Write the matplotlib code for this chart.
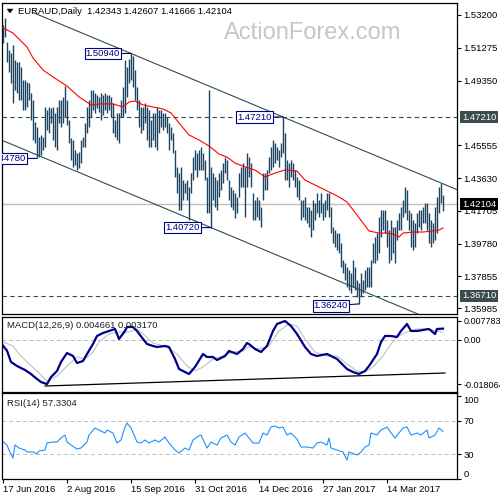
import matplotlib
matplotlib.use("Agg")
import matplotlib.pyplot as plt
from matplotlib.patches import Polygon

plt.rcParams['font.family'] = ['Liberation Sans', 'DejaVu Sans']

# ---------------- data ----------------
date_ticks = [0, 32, 64, 96, 128, 160, 192]
date_labels = ["17 Jun 2016", "2 Aug 2016", "15 Sep 2016", "31 Oct 2016",
               "14 Dec 2016", "27 Jan 2017", "14 Mar 2017"]

highs = [
    1.5261, 1.5302, 1.5161, 1.5115, 1.5097, 1.5144, 1.5056, 1.5044, 1.5044, 1.5015,
    1.4938, 1.4938, 1.4927, 1.4921, 1.4862, 1.4821, 1.4692, 1.4663, 1.4604, 1.4616,
    1.4604, 1.4780, 1.4762, 1.4780, 1.4774, 1.4780, 1.4745, 1.4780, 1.4821, 1.4821,
    1.4839, 1.4903, 1.4821, 1.4704, 1.4598, 1.4586, 1.4528, 1.4510, 1.4516, 1.4586,
    1.4604, 1.4686, 1.4780, 1.4821, 1.4880, 1.4880, 1.4862, 1.4850, 1.4839, 1.4862,
    1.4850, 1.4862, 1.4850, 1.4850, 1.4839, 1.4803, 1.4704, 1.4745, 1.4745, 1.4821,
    1.4897, 1.5056, 1.5015, 1.5060, 1.5094, 1.5080, 1.4997, 1.4897, 1.4821, 1.4780,
    1.4780, 1.4803, 1.4780, 1.4762, 1.4704, 1.4745, 1.4745, 1.4780, 1.4762, 1.4762,
    1.4745, 1.4745, 1.4721, 1.4686, 1.4663, 1.4627, 1.4528, 1.4428, 1.4393, 1.4428,
    1.4351, 1.4334, 1.4351, 1.4310, 1.4393, 1.4486, 1.4528, 1.4510, 1.4528, 1.4545,
    1.4510, 1.4469, 1.4369, 1.4880, 1.4428, 1.4393, 1.4369, 1.4351, 1.4393, 1.4410,
    1.4451, 1.4486, 1.4469, 1.4351, 1.4310, 1.4293, 1.4275, 1.4252, 1.4393, 1.4428,
    1.4451, 1.4428, 1.4510, 1.4486, 1.4451, 1.4275, 1.4234, 1.4252, 1.4234, 1.4193,
    1.4393, 1.4393, 1.4410, 1.4486, 1.4545, 1.4586, 1.4569, 1.4545, 1.4528, 1.4569,
    1.4721, 1.4627, 1.4469, 1.4451, 1.4469, 1.4451, 1.4410, 1.4369, 1.4351, 1.4234,
    1.4234, 1.4252, 1.4193, 1.4193, 1.4175, 1.4234, 1.4216, 1.4275, 1.4234, 1.4275,
    1.4216, 1.4234, 1.4275, 1.4275, 1.4193, 1.4076, 1.4058, 1.4040, 1.4040, 1.3982,
    1.3882, 1.3864, 1.3841, 1.3823, 1.3806, 1.3882, 1.3841, 1.3764, 1.3747, 1.3806,
    1.3764, 1.3823, 1.3841, 1.3841, 1.3882, 1.3982, 1.4017, 1.4040, 1.4134, 1.4175,
    1.4175, 1.4175, 1.4117, 1.4058, 1.4117, 1.4076, 1.4076, 1.4117, 1.4158, 1.4193,
    1.4234, 1.4310, 1.4293, 1.4175, 1.4158, 1.4117, 1.4099, 1.4158, 1.4175, 1.4175,
    1.4193, 1.4216, 1.4216, 1.4158, 1.4117, 1.4099, 1.4193, 1.4252, 1.4310, 1.4334,
    1.42607]

lows = [
    1.5156, 1.5191, 1.5044, 1.4985, 1.4921, 1.4803, 1.4880, 1.4862, 1.4821, 1.4821,
    1.4762, 1.4762, 1.4780, 1.4821, 1.4704, 1.4586, 1.4569, 1.4478, 1.4486, 1.4498,
    1.4528, 1.4545, 1.4645, 1.4627, 1.4686, 1.4586, 1.4545, 1.4528, 1.4686, 1.4663,
    1.4686, 1.4721, 1.4674, 1.4569, 1.4469, 1.4428, 1.4440, 1.4410, 1.4422, 1.4451,
    1.4545, 1.4545, 1.4627, 1.4663, 1.4721, 1.4762, 1.4745, 1.4774, 1.4751, 1.4704,
    1.4733, 1.4762, 1.4745, 1.4762, 1.4721, 1.4627, 1.4604, 1.4586, 1.4569, 1.4721,
    1.4721, 1.4745, 1.4839, 1.4921, 1.4938, 1.4897, 1.4821, 1.4762, 1.4663, 1.4627,
    1.4645, 1.4686, 1.4586, 1.4545, 1.4545, 1.4586, 1.4545, 1.4528, 1.4627, 1.4663,
    1.4645, 1.4663, 1.4627, 1.4528, 1.4586, 1.4510, 1.4369, 1.4275, 1.4175, 1.4175,
    1.4234, 1.4275, 1.4234, 1.4117, 1.4275, 1.4351, 1.4410, 1.4369, 1.4410, 1.4410,
    1.4410, 1.4351, 1.4158, 1.4158, 1.4072, 1.4234, 1.4193, 1.4175, 1.4252, 1.4293,
    1.4334, 1.4393, 1.4351, 1.4234, 1.4193, 1.4175, 1.4128, 1.4158, 1.4252, 1.4310,
    1.4310, 1.4134, 1.4310, 1.4369, 1.4310, 1.4117, 1.4117, 1.4134, 1.4117, 1.4076,
    1.4234, 1.4293, 1.4293, 1.4393, 1.4410, 1.4428, 1.4451, 1.4469, 1.4428, 1.4486,
    1.4510, 1.4351, 1.4351, 1.4310, 1.4369, 1.4351, 1.4310, 1.4252, 1.4234, 1.4117,
    1.4134, 1.4117, 1.4099, 1.4076, 1.4017, 1.4058, 1.4117, 1.4158, 1.4134, 1.4158,
    1.4117, 1.4134, 1.4175, 1.4134, 1.4040, 1.3982, 1.3958, 1.3941, 1.3923, 1.3841,
    1.3806, 1.3764, 1.3723, 1.3706, 1.3688, 1.3723, 1.3706, 1.3665, 1.3624, 1.3665,
    1.3688, 1.3706, 1.3723, 1.3723, 1.3723, 1.3864, 1.3864, 1.3882, 1.3923, 1.4017,
    1.4058, 1.4040, 1.3958, 1.3864, 1.3882, 1.3923, 1.3864, 1.3999, 1.4058, 1.4058,
    1.4134, 1.4158, 1.4117, 1.4058, 1.3958, 1.3941, 1.3958, 1.4040, 1.4076, 1.4058,
    1.4099, 1.4099, 1.4058, 1.3982, 1.3958, 1.3982, 1.3999, 1.4040, 1.4158, 1.4216,
    1.41666]

ma_idx = [0, 5, 12, 15, 20, 25, 32, 38, 44, 49, 55, 60, 63, 66, 70, 75, 80, 84, 88, 93,
          98, 103, 108, 112, 116, 121, 126, 131, 136, 141, 147, 151, 156, 161, 168, 172,
          177, 180, 183, 188, 192, 195, 198, 200, 205, 210, 215, 218, 220]
ma_val = [1.5244, 1.5214, 1.5132, 1.5068, 1.4997, 1.4956, 1.4903, 1.4839, 1.4792, 1.4798,
          1.4798, 1.4780, 1.4809, 1.4815, 1.4792, 1.4780, 1.4768, 1.4745, 1.4686, 1.4616,
          1.4586, 1.4551, 1.4504, 1.4486, 1.4451, 1.4428, 1.4410, 1.4369, 1.4392, 1.4410,
          1.4404, 1.4351, 1.4322, 1.4293, 1.4252, 1.4222, 1.4146, 1.4099, 1.4052, 1.4040,
          1.4040, 1.4035, 1.4017, 1.4040, 1.4046, 1.4046, 1.4052, 1.4058, 1.4070]

channel_upper = [(64, 1.5094), (219, 1.4334)]   # two touch points
channel_upper_start = 15
channel_lower_touch = (104, 1.4072)

hlines_dashed = [1.47210, 1.36710]
last_price = 1.42104

swing_labels = [(64, 1.50940, 0), (140, 1.47210, 0), (17, 1.44780, 0),
                (104, 1.40720, 0), (178, 1.36240, -2)]

price_ticks = [1.53200, 1.51275, 1.49350, 1.45555, 1.43630, 1.41705, 1.39780,
               1.37855, 1.35985]

macd_idx = [0, 2, 4, 7, 11, 14, 17, 19, 22, 24, 27, 29, 32, 35, 37, 40, 42, 45, 47, 50,
            53, 56, 58, 61, 62, 65, 67, 70, 72, 75, 77, 81, 83, 86, 88, 91, 93, 96, 100, 102,
            105, 107, 111, 113, 117, 120, 122, 123, 126, 129, 132, 135, 137, 141, 144, 147,
            151, 154, 157, 162, 167, 172, 175, 178, 181, 183, 187, 189, 191, 194, 197, 199,
            202, 204, 207, 210, 213, 216, 217, 220]
macd_val = [-0.00234, -0.00438, -0.00901, -0.01065, -0.01229, -0.01393, -0.01598, -0.01721,
            -0.01806, -0.01516, -0.01270, -0.00901, -0.00533, -0.00655, -0.00942, -0.00860,
            -0.00574, -0.00164, 0.00164, 0.00287, 0.00369, 0.00451, 0.00041, 0.00369, 0.00533,
            0.00533, 0.00369, 0.00041, -0.00164, -0.00246, -0.00287, -0.00246, -0.00287,
            -0.00778, -0.01188, -0.01311, -0.01393, -0.01106, -0.00574, -0.00696, -0.00696,
            -0.00819, -0.00655, -0.00451, -0.00574, -0.00369, -0.00123, -0.00164, -0.00369,
            -0.00492, -0.00246, 0.00369, 0.00655, 0.00778, 0.00574, 0.00246, -0.00287,
            -0.00574, -0.00655, -0.00574, -0.00778, -0.01188, -0.01311, -0.01393, -0.01270,
            -0.01065, -0.00574, -0.00082, 0.00164, 0.00164, 0.00123, 0.00369, 0.00655,
            0.00369, 0.00369, 0.00410, 0.00451, 0.00246, 0.00451, 0.00466]
sig_idx = [0, 5, 8, 13, 18, 22, 27, 32, 37, 41, 45, 48, 53, 58, 63, 67, 70, 75, 82, 87,
           92, 96, 100, 105, 110, 115, 120, 123, 128, 133, 138, 143, 147, 151, 156, 162,
           167, 172, 177, 181, 185, 190, 194, 197, 202, 207, 212, 217, 220]
sig_val = [-0.00082, -0.00246, -0.00574, -0.00983, -0.01352, -0.01680, -0.01475, -0.01065,
           -0.00696, -0.00778, -0.00492, -0.00082, 0.00246, 0.00328, 0.00328, 0.00451,
           0.00246, -0.00123, -0.00287, -0.00574, -0.01065, -0.01270, -0.01106, -0.00778,
           -0.00655, -0.00492, -0.00451, -0.00266, -0.00369, -0.00246, 0.00369, 0.00655,
           0.00574, 0.00041, -0.00492, -0.00655, -0.00655, -0.00983, -0.01270, -0.01311,
           -0.01106, -0.00655, -0.00164, 0.00123, 0.00328, 0.00451, 0.00451, 0.00369, 0.00317]
macd_trend = [(21, -0.01884), (221, -0.01352)]
macd_ticks = [0.007783, 0.0, -0.018064]
macd_tick_labels = ["0.007783", "0.00", "-0.018064"]

rsi_idx = [0, 2, 3, 5, 6, 8, 11, 12, 15, 17, 18, 21, 22, 25, 27, 29, 31, 32, 34, 37,
           39, 42, 43, 46, 48, 51, 52, 55, 57, 59, 61, 62, 64, 67, 69, 71, 73, 76, 78, 81,
           83, 86, 88, 91, 93, 95, 97, 99, 102, 104, 107, 109, 112, 114, 116, 118, 121, 123,
           125, 128, 130, 132, 134, 136, 138, 140, 142, 144, 147, 149, 152, 155, 157, 159,
           162, 163, 164, 167, 170, 172, 173, 177, 179, 181, 183, 184, 187, 189, 192, 193,
           196, 198, 200, 202, 204, 207, 209, 212, 213, 216, 218, 220]
rsi_val = [44.8, 40.8, 34.8, 25.2, 40.8, 37.2, 34.8, 32.4, 32.4, 30.0, 33.6, 34.8, 43.2,
           44.4, 44.4, 49.2, 52.8, 44.4, 40.8, 36.0, 37.2, 44.4, 52.8, 61.2, 58.8, 55.2, 58.8,
           55.2, 43.2, 46.8, 62.4, 67.2, 61.2, 44.4, 43.2, 46.8, 43.2, 46.8, 44.4, 50.4, 43.2,
           34.8, 31.2, 37.2, 34.8, 46.8, 50.4, 52.8, 37.2, 44.4, 40.8, 49.2, 52.8, 44.4, 40.8,
           50.4, 55.2, 49.2, 43.2, 43.2, 55.2, 52.8, 62.4, 63.6, 61.2, 62.4, 52.8, 55.2, 48.0,
           38.4, 38.4, 37.2, 43.2, 44.4, 40.8, 49.2, 37.2, 34.8, 32.4, 22.8, 32.4, 28.8, 32.4,
           38.4, 40.8, 55.2, 52.8, 58.8, 62.4, 58.8, 49.2, 55.2, 61.2, 62.4, 52.8, 55.2, 52.8,
           58.8, 49.2, 52.8, 61.2, 57.33]
rsi_ticks = [100, 70, 30, 0]

title = "EURAUD,Daily  1.42343 1.42607 1.41666 1.42104"
macd_title = "MACD(12,26,9) 0.004661 0.003170"
rsi_title = "RSI(14) 57.3304"
watermark = "ActionForex.com"

# ---------------- styling ----------------
BAR = '#1d4561'
SLATE = '#2f4f4f'
NAVY = '#000080'
FS = 6.8
W = H = 500.0


def fx(px):
    return px / W


def fy(py):
    return 1 - py / H


fig = plt.figure(figsize=(5, 5), dpi=100)
fig.patch.set_facecolor('white')

ax = fig.add_axes([fx(2), fy(314), fx(455), (314 - 2.5) / H])
axm = fig.add_axes([fx(2), fy(392), fx(455), 75 / H])
axr = fig.add_axes([fx(2), fy(479), fx(455), 85.7 / H])

n = len(highs)
idx = list(range(n))
for a in (ax, axm, axr):
    a.set_xlim(-0.5, 227)
    for s in a.spines.values():
        s.set_linewidth(0.9)
        s.set_color('black')
    a.yaxis.tick_right()
    a.tick_params(axis='y', direction='out', length=3, width=0.8, labelsize=FS, pad=1.5,
                  colors='black')
    a.tick_params(axis='x', bottom=False, labelbottom=False)

# ---------------- main panel ----------------
ax.set_ylim(1.35648, 1.53933)
ax.vlines(idx, lows, highs, color=BAR, lw=1.0, zorder=3)
ax.plot(ma_idx, ma_val, color='#ff0000', lw=0.8, zorder=4)

(i1, p1), (i2, p2) = channel_upper
slope = (p2 - p1) / (i2 - i1)
xs = [channel_upper_start, 240]
ax.plot(xs, [p1 + slope * (x - i1) for x in xs], color=SLATE, lw=0.8, zorder=2)
ax.axline(channel_lower_touch, slope=slope, color=SLATE, lw=0.8, zorder=2)

for lv in hlines_dashed:
    ax.axhline(lv, color=SLATE, lw=0.8, ls=(0, (4, 3)), zorder=1)
ax.axhline(last_price, color='#c0c0c0', lw=1.0, zorder=1)

ax.set_yticks(price_ticks)
ax.set_yticklabels([f"{v:.5f}" for v in price_ticks])

for bi, val, dy in swing_labels:
    t = ax.annotate(f"{val:.5f}", xy=(bi, val), xytext=(-11, dy), textcoords='offset pixels',
                    ha='right', va='center', fontsize=FS, color=NAVY, zorder=6,
                    bbox=dict(boxstyle='square,pad=0.12', fc='white', ec=NAVY, lw=0.8),
                    arrowprops=dict(arrowstyle='-', color=NAVY, lw=0.8, shrinkA=0, shrinkB=0))
    t.set_clip_on(True)
    t.set_clip_box(ax.bbox)

for lv, bg in [(hlines_dashed[0], '#3b4d4d'), (last_price, '#000000'),
               (hlines_dashed[1], '#3b4d4d')]:
    ax.annotate(f"{lv:.5f}", xy=(1, lv), xycoords=('axes fraction', 'data'),
                xytext=(5, 0), textcoords='offset pixels', ha='left', va='center',
                fontsize=FS, color='white', annotation_clip=False, zorder=10,
                bbox=dict(boxstyle='square,pad=0.2', fc=bg, ec=bg, lw=0))

# ---------------- MACD panel ----------------
axm.set_ylim(-0.0213, 0.00942)
axm.axhline(0, color='#b8b8b8', lw=0.7, ls=(0, (4, 3)))
axm.plot(sig_idx, sig_val, color='#c0c0c0', lw=0.8)
axm.plot(macd_idx, macd_val, color='#000088', lw=1.6)
axm.plot([macd_trend[0][0], macd_trend[1][0]], [macd_trend[0][1], macd_trend[1][1]],
         color='black', lw=0.9)
axm.set_yticks(macd_ticks)
axm.set_yticklabels(macd_tick_labels)
axm.tick_params(axis='y', labelsize=6.5)

# ---------------- RSI panel ----------------
axr.set_ylim(0, 102.9)
for lv in (70, 30):
    axr.axhline(lv, color='#c0c0c0', lw=0.7, ls=(0, (4, 3)))
axr.plot(rsi_idx, rsi_val, color='#1e90ff', lw=0.8)
axr.set_yticks(rsi_ticks)
axr.set_yticklabels([str(v) for v in rsi_ticks])
tl = axr.get_yticklabels()
tl[0].set_va('top')
tl[-1].set_va('bottom')

axr.set_xticks(date_ticks)
axr.set_xticklabels(date_labels, ha='left')
axr.tick_params(axis='x', bottom=True, labelbottom=True, direction='out', length=3,
                width=0.8, labelsize=FS, pad=1.5)

# ---------------- texts ----------------
fig.text(fx(313), fy(33), watermark, fontsize=17, color='#c6c6c6', ha='center',
         va='center', zorder=0)
fig.text(fx(18), fy(11), title, fontsize=FS, ha='left', va='center', color='black')
fig.patches.append(Polygon([[fx(7), fy(9)], [fx(13), fy(9)], [fx(10), fy(13)]],
                           closed=True, transform=fig.transFigure, fc='black', ec='black',
                           lw=0.3))
fig.text(fx(7), fy(326), macd_title, fontsize=FS, ha='left', va='center', color='#202020')
fig.text(fx(7), fy(403), rsi_title, fontsize=FS, ha='left', va='center', color='#202020')

fig.savefig('out.png', dpi=100, facecolor='white')
